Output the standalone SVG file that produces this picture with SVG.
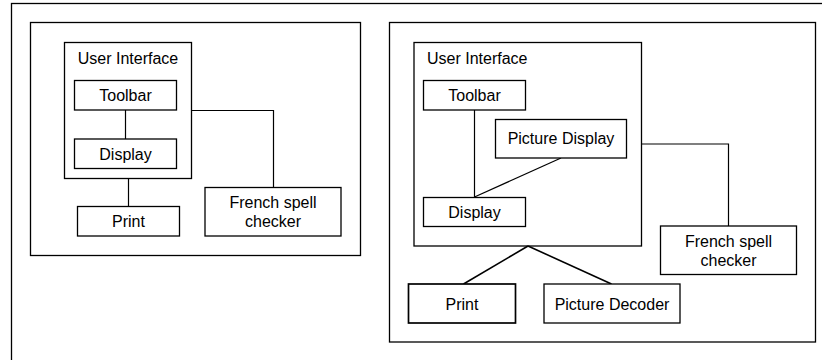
<svg xmlns="http://www.w3.org/2000/svg" width="822" height="360" viewBox="0 0 822 360">
  <style>
    .box { fill: #ffffff; stroke: #000000; stroke-width: 1.3; }
    .open { fill: none; }
    .thick { stroke-width: 1.7; }
    .wire { fill: none; stroke: #000000; stroke-width: 1.2; }
    .wire2 { fill: none; stroke: #000000; stroke-width: 1.6; }
    text { font-family: "Liberation Sans", Arial, sans-serif; font-size: 16px; fill: #000000; }
    .c { text-anchor: middle; }
  </style>

  <rect width="822" height="360" fill="#ffffff"/>

  <!-- outer frame, runs past the canvas edges on the right and bottom -->
  <rect id="frame" x="11.5" y="3.5" width="830" height="370" class="box open"/>

  <!-- left panel -->
  <g id="panel-left">
    <rect x="30.5" y="22.5" width="330" height="233" class="box"/>
  </g>

  <g id="ui-left">
    <rect x="64.5" y="42.5" width="127" height="136" class="box open"/>
    <text x="128" y="64" class="c">User Interface</text>
  </g>

  <g id="connectors-left">
    <line x1="125.5" y1="110" x2="125.5" y2="139" class="wire"/>
    <line x1="128.5" y1="178" x2="128.5" y2="207" class="wire"/>
    <polyline points="191.5,110.5 273.5,110.5 273.5,187" class="wire"/>
  </g>

  <g id="toolbar-left">
    <rect x="74.5" y="80.5" width="102" height="29.5" class="box"/>
    <text x="125.5" y="101" class="c">Toolbar</text>
  </g>
  <g id="display-left">
    <rect x="74.5" y="139" width="102" height="29.5" class="box"/>
    <text x="125.5" y="160" class="c">Display</text>
  </g>
  <g id="print-left">
    <rect x="77.5" y="206.5" width="102" height="29.5" class="box"/>
    <text x="128.5" y="227" class="c">Print</text>
  </g>
  <g id="spell-left">
    <rect x="205" y="187.5" width="136" height="48.5" class="box"/>
    <text x="273" y="208" class="c">French spell</text>
    <text x="273" y="227" class="c">checker</text>
  </g>

  <!-- right panel -->
  <g id="panel-right">
    <rect x="389.5" y="22.5" width="426" height="319.5" class="box"/>
  </g>

  <g id="ui-right">
    <rect x="414" y="42.5" width="227.5" height="203.5" class="box open"/>
    <text x="427" y="64">User Interface</text>
  </g>

  <g id="connectors-right">
    <line x1="474.5" y1="110" x2="474.5" y2="197" class="wire"/>
    <line x1="474.5" y1="197" x2="561" y2="158" class="wire"/>
    <polyline points="641.5,144 728.5,144 728.5,226" class="wire"/>
    <line x1="528" y1="246" x2="463.5" y2="284" class="wire2"/>
    <line x1="528" y1="246" x2="611.5" y2="284" class="wire2"/>
  </g>

  <g id="toolbar-right">
    <rect x="423.5" y="80.5" width="102" height="29.5" class="box"/>
    <text x="474.5" y="101" class="c">Toolbar</text>
  </g>
  <g id="picture-display">
    <rect x="495.5" y="119.5" width="131" height="38.5" class="box"/>
    <text x="561" y="144" class="c">Picture Display</text>
  </g>
  <g id="display-right">
    <rect x="423.5" y="197.5" width="102" height="29" class="box"/>
    <text x="474.5" y="218" class="c">Display</text>
  </g>
  <g id="spell-right">
    <rect x="660.5" y="226" width="136" height="48.5" class="box"/>
    <text x="728.5" y="247" class="c">French spell</text>
    <text x="728.5" y="266" class="c">checker</text>
  </g>
  <g id="print-right">
    <rect x="408.5" y="284" width="107" height="39" class="box thick"/>
    <text x="462" y="310" class="c">Print</text>
  </g>
  <g id="picture-decoder">
    <rect x="544" y="284" width="136" height="39" class="box"/>
    <text x="612" y="310" class="c">Picture Decoder</text>
  </g>
</svg>
